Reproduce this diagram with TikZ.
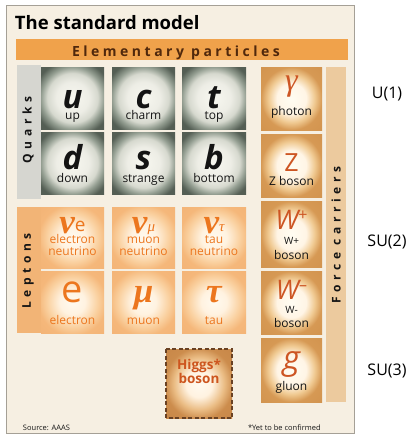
\documentclass[tikz,border=0pt]{standalone}
\usepackage{fontspec}
\setmainfont{Open Sans}
\newfontfamily\spacedfont[LetterSpace=38]{Open Sans}
\newfontfamily\barfont[LetterSpace=25]{Open Sans}
\newfontfamily\greekfont{Liberation Serif}
\definecolor{panelbg}{RGB}{246,239,226}
\definecolor{panelline}{RGB}{165,160,150}
\definecolor{barorange}{RGB}{240,162,75}
\definecolor{bartext}{RGB}{80,40,12}
\definecolor{qstrip}{RGB}{214,214,208}
\definecolor{lstrip}{RGB}{242,180,118}
\definecolor{fstrip}{RGB}{236,202,158}
\definecolor{ltext}{RGB}{236,118,30}
\definecolor{ftext}{RGB}{205,85,35}
\definecolor{htext}{RGB}{205,85,30}
\definecolor{hborder}{RGB}{105,65,35}
\definecolor{darktext}{RGB}{20,20,20}
\pgfdeclareradialshading{qglow}{\pgfpoint{0bp}{0bp}}{rgb(0bp)=(0.97,0.97,0.94);rgb(13bp)=(0.93,0.93,0.9);rgb(20bp)=(0.84,0.85,0.81);rgb(25bp)=(0.58,0.62,0.57);rgb(31bp)=(0.33,0.37,0.33);rgb(50bp)=(0.33,0.37,0.33)}
\pgfdeclareradialshading{lglow}{\pgfpoint{0bp}{0bp}}{rgb(0bp)=(1,0.98,0.94);rgb(10bp)=(1,0.95,0.88);rgb(20bp)=(0.98,0.82,0.63);rgb(27bp)=(0.96,0.72,0.48);rgb(50bp)=(0.95,0.68,0.44)}
\pgfdeclareradialshading{fglow}{\pgfpoint{0bp}{0bp}}{rgb(0bp)=(1,0.99,0.95);rgb(12bp)=(1,0.96,0.9);rgb(19bp)=(0.94,0.79,0.57);rgb(25bp)=(0.84,0.6,0.33);rgb(50bp)=(0.8,0.55,0.28)}
\pgfdeclareradialshading{hglow}{\pgfpoint{0bp}{0bp}}{rgb(0bp)=(1,0.98,0.94);rgb(10bp)=(1,0.95,0.88);rgb(19bp)=(0.92,0.74,0.52);rgb(26bp)=(0.8,0.55,0.3);rgb(50bp)=(0.76,0.5,0.26)}
\newcommand\mytile[5]{\shade[shading=#1] (#2,#3) rectangle (#4,#5);}
\begin{document}
\begin{tikzpicture}[x=1pt,y=-1pt,
  every node/.style={inner sep=0pt,outer sep=0pt},
  qsym/.style={anchor=base,text depth=0pt,font=\fontsize{33}{33}\selectfont\bfseries\itshape,text=darktext},
  lab/.style={anchor=base,align=center,text height=6.5pt,font=\fontsize{12}{12}\selectfont,text=darktext},
  llab/.style={lab,text=ltext},
  lsym/.style={anchor=base,text depth=0pt,font=\fontsize{35}{35}\selectfont\greekfont\bfseries\itshape,text=ltext},
  fsym/.style={anchor=base,text depth=0pt,font=\fontsize{30}{30}\selectfont\itshape,text=ftext},
  sidetext/.style={font=\fontsize{12}{12}\selectfont\spacedfont\bfseries,text=darktext,rotate=90},
  gauge/.style={font=\fontsize{16}{16}\selectfont,text=black},
  note/.style={anchor=base west,font=\fontsize{7.5}{7.5}\selectfont,text=darktext}]
\useasboundingbox (0,0) rectangle (409,434);
% panel
\fill[white] (0,0) rectangle (409,434);
\filldraw[fill=panelbg,draw=panelline,line width=0.8pt] (6,5) rectangle (354,433);
% title
\node[anchor=base west,font=\fontsize{18.5}{18.5}\selectfont\bfseries,text=black] (title) at (15,29) {The standard model};
% bar
\fill[barorange] (16,39) rectangle (348,60);
\node[anchor=base,font=\fontsize{14}{14}\selectfont\barfont\bfseries,text=bartext] (bar) at (176,56) {Elementary particles};
% strips
\fill[qstrip] (17,65) rectangle (41,199);
\fill[lstrip] (17,207) rectangle (41,333);
\fill[fstrip] (326,67) rectangle (346,402);
\node[sidetext] (quarks) at (28,130) {Quarks};
\node[sidetext] (leptons) at (28,271) {Leptons};
\node[sidetext] (force) at (336,235) {Force carriers};
% quark tiles
\mytile{qglow}{41}{67}{104}{129}
\mytile{qglow}{112}{67}{175}{129}
\mytile{qglow}{182}{67}{246}{129}
\mytile{qglow}{41}{132}{104}{194}
\mytile{qglow}{112}{132}{175}{194}
\mytile{qglow}{182}{132}{246}{194}
\node[qsym] (u) at (72.5,108.5) {u};
\node[qsym] (c) at (143.5,108.5) {c};
\node[qsym] (t) at (214,108.5) {t};
\node[qsym] (d) at (72.5,169.5) {d};
\node[qsym] (s) at (143.5,169.5) {s};
\node[qsym] (b) at (214,169.5) {b};
\node[lab] (lu) at (72.5,119) {up};
\node[lab] (lc) at (143.5,119) {charm};
\node[lab] (lt) at (214,119) {top};
\node[lab] (ld) at (72.5,182) {down};
\node[lab] (ls) at (143.5,182) {strange};
\node[lab] (lb) at (214,182) {bottom};
% lepton tiles
\mytile{lglow}{41}{207}{104}{268}
\mytile{lglow}{112}{207}{175}{268}
\mytile{lglow}{182}{207}{246}{268}
\mytile{lglow}{41}{271}{104}{333}
\mytile{lglow}{112}{271}{175}{333}
\mytile{lglow}{182}{271}{246}{333}
\node[lsym] (nue) at (72.5,233) {ν\raisebox{2pt}{\fontsize{19}{19}\selectfont\mdseries\upshape\rmfamily e}};
\node[lsym] (num) at (143.5,233) {ν\raisebox{2pt}{\fontsize{15}{15}\selectfont\mdseries μ}};
\node[lsym] (nut) at (214,233) {ν\raisebox{2pt}{\fontsize{15}{15}\selectfont\mdseries τ}};
\node[llab] (lnue) at (72.5,255) {electron\\neutrino};
\node[llab] (lnum) at (143.5,255) {muon\\neutrino};
\node[llab] (lnut) at (214,255) {tau\\neutrino};
\node[anchor=base,text depth=0pt,font=\fontsize{38}{38}\selectfont,text=ltext] (e) at (72.5,302) {e};
\node[lsym] (mu) at (143.5,302) {μ};
\node[lsym] (tau) at (214,302) {τ};
\node[llab] (le) at (72.5,324) {electron};
\node[llab] (lmu) at (143.5,324) {muon};
\node[llab] (ltau) at (214,324) {tau};
% force tiles
\mytile{fglow}{261}{67}{322}{130}
\mytile{fglow}{261}{134}{322}{197}
\mytile{fglow}{261}{201}{322}{267}
\mytile{fglow}{261}{271}{322}{334}
\mytile{fglow}{261}{338}{322}{402}
\node[fsym,font=\fontsize{32}{32}\selectfont\greekfont\itshape] (gamma) at (291.5,90) {γ};
\node[lab] (lgamma) at (291.5,115) {photon};
\node[fsym,font=\fontsize{25}{25}\selectfont] (Z) at (291.5,171) {Z};
\node[lab] (lZ) at (291.5,185) {Z boson};
\node[fsym,font=\fontsize{27}{27}\selectfont\itshape] (Wp) at (291.5,229) {W\raisebox{9pt}{\fontsize{16}{16}\selectfont\upshape +}};
\node[lab,text height=7pt,font=\fontsize{10}{10}\selectfont] (lWp1) at (291.5,244) {W+};
\node[lab] (lWp2) at (291.5,259) {boson};
\node[fsym,font=\fontsize{27}{27}\selectfont\itshape] (Wm) at (291.5,299) {W\raisebox{9pt}{\fontsize{16}{16}\selectfont\upshape –}};
\node[lab,text height=7pt,font=\fontsize{10}{10}\selectfont] (lWm1) at (291.5,313) {W-};
\node[lab] (lWm2) at (291.5,327) {boson};
\node[fsym,font=\fontsize{33}{33}\selectfont\itshape] (g) at (291.5,369) {g};
\node[lab] (lg) at (291.5,390) {gluon};
% higgs
\mytile{hglow}{166}{349}{232}{418}
\draw[hborder,line width=1.2pt,dash pattern=on 4pt off 2.5pt] (166,349) rectangle (232,418);
\node[anchor=base,align=center,font=\fontsize{13.5}{14}\selectfont\bfseries,text=htext] (higgs) at (199,383) {Higgs*\\boson};
% gauge groups
\node[gauge] (u1) at (387,94) {U(1)};
\node[gauge] (su2) at (387,242) {SU(2)};
\node[gauge] (su3) at (387,371) {SU(3)};
% notes
\node[note] (src) at (23,430) {Source: AAAS};
\node[note] (yet) at (248,430) {*Yet to be confirmed};
\end{tikzpicture}
\end{document}
